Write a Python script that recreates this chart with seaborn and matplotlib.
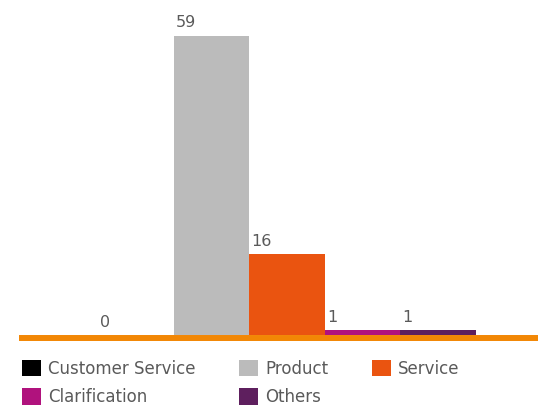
import matplotlib
matplotlib.use("Agg")
import matplotlib.pyplot as plt
from matplotlib.patches import Patch
import seaborn as sns

# Ticket counts per request category
categories = ["Customer Service", "Product", "Service", "Clarification", "Others"]
counts = [0, 59, 16, 1, 1]
colors = ["#000000", "#BBBBBB", "#EA5410", "#B0127D", "#5E1F5E"]

text_grey = "#5A5A5A"
baseline_orange = "#F28705"

sns.set_theme(style="white")
plt.rcParams["font.family"] = ["DejaVu Sans"]

fig = plt.figure(figsize=(5.38, 4.07), dpi=100)
ax = fig.add_axes([22 / 538, 72 / 407, 516 / 538, 335 / 407])

palette = dict(zip(categories, colors))
sns.barplot(x=categories, y=counts, hue=categories, palette=palette,
            width=1.0, saturation=1, legend=False, ax=ax, order=categories,
            hue_order=categories, linewidth=0, edgecolor="none")

ax.set_xlim(-1.505, 5.32)
ax.set_ylim(0, 66)
ax.set_xticks([])
ax.set_yticks([])
ax.set_xlabel("")
ax.set_ylabel("")
for side in ("top", "left", "right"):
    ax.spines[side].set_visible(False)
ax.spines["bottom"].set_color(baseline_orange)
ax.spines["bottom"].set_linewidth(4.3)
ax.spines["bottom"].set_position(("outward", 2.16))

# Value labels sit just above the top-left corner of each bar
for container in ax.containers:
    for bar in container:
        h = bar.get_height()
        ax.annotate(f"{int(round(h))}", xy=(bar.get_x(), h),
                    xytext=(1.5, 5.8), textcoords="offset points",
                    ha="left", va="baseline", fontsize=11.5,
                    color=text_grey, annotation_clip=False)

# Legend is filled column by column, so order entries to read row by row
ncol = 3
nrow = -(-len(categories) // ncol)
legend_order = [r * ncol + c for c in range(ncol) for r in range(nrow)
                if r * ncol + c < len(categories)]
handles = [Patch(facecolor=colors[i], edgecolor="none", label=categories[i])
           for i in legend_order]
fig.legend(handles=handles, loc="upper left",
           bbox_to_anchor=(22 / 538, 1 - 359.5 / 407), ncol=ncol,
           frameon=False, fontsize=12, handlelength=1.12, handleheight=1.12,
           handletextpad=0.42, columnspacing=2.65, labelspacing=0.64,
           borderpad=0, borderaxespad=0, labelcolor=text_grey)

fig.savefig("out.png", dpi=100)
